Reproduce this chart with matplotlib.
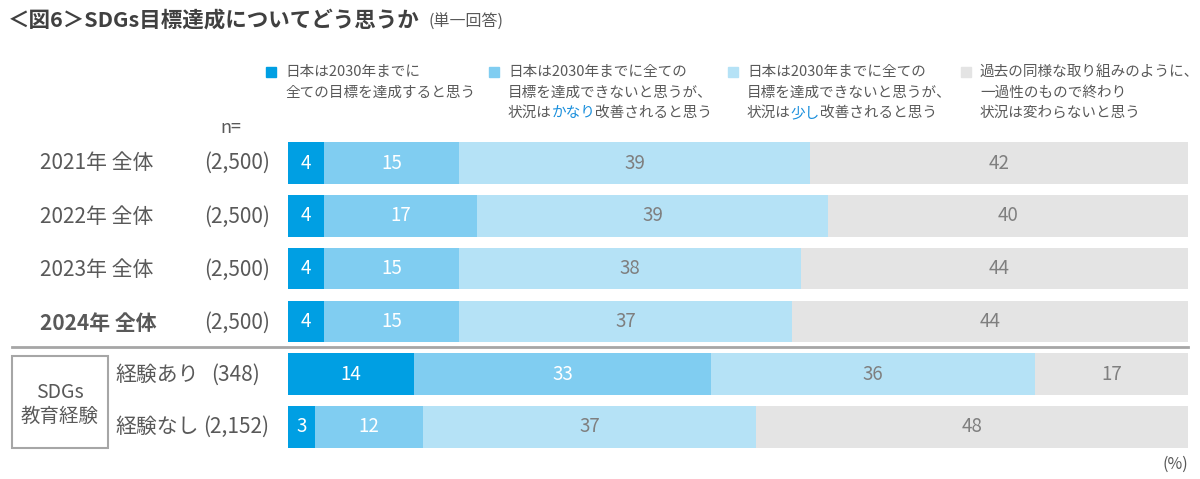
import matplotlib.pyplot as plt
import numpy as np

plt.rcParams['font.family'] = ['Noto Sans CJK JP', 'DejaVu Sans']

# data
row_labels = ['2021年 全体', '2022年 全体', '2023年 全体', '2024年 全体', '経験あり', '経験なし']
row_n = ['(2,500)', '(2,500)', '(2,500)', '(2,500)', '(348)', '(2,152)']
achieve_all = [4, 4, 4, 4, 14, 3]
improve_much = [15, 17, 15, 15, 33, 12]
improve_little = [39, 39, 38, 37, 36, 37]
no_change = [42, 40, 44, 44, 17, 48]

series = [achieve_all, improve_much, improve_little, no_change]
colors = ['#009fe3', '#80cdf1', '#b5e2f6', '#e4e4e4']
value_colors = ['white', 'white', '#7f7f7f', '#7f7f7f']

W, H = 1200, 479
fig = plt.figure(figsize=(12, 4.79), dpi=100)


def fx(px):
    return px / W


def fy(py):
    return 1 - py / H


gray = '#595959'

# bar axes
ax = fig.add_axes([fx(288), fy(453.4), fx(1188 - 288), (453.4 - 136.6) / H])
y = np.arange(len(row_labels))
left = np.zeros(len(row_labels))
for vals, c, tc in zip(series, colors, value_colors):
    vals = np.array(vals, dtype=float)
    ax.barh(y, vals, left=left, height=0.79, color=c, edgecolor='none')
    for yi, l, v in zip(y, left, vals):
        ax.text(l + v / 2, yi, f'{int(v)}', ha='center', va='center',
                fontsize=13.5, color=tc)
    left += vals
ax.set_xlim(0, 100)
ax.set_ylim(5.5, -0.5)
ax.axis('off')

# row labels
label_x = [40, 40, 40, 40, 115, 115]
n_right = [270, 270, 270, 270, 260, 269]
row_py = [163, 217, 270, 323, 375, 427]
for i, (lab, n) in enumerate(zip(row_labels, row_n)):
    w = 'bold' if i == 3 else 'normal'
    fig.text(fx(label_x[i]), fy(row_py[i]), lab, ha='left', va='center',
             fontsize=15, color=gray, fontweight=w)
    fig.text(fx(n_right[i]), fy(row_py[i]), n, ha='right', va='center',
             fontsize=15, color=gray)

fig.text(fx(220), fy(128), 'n=', ha='left', va='center', fontsize=13, color=gray)
fig.text(fx(1188), fy(464), '(%)', ha='right', va='center', fontsize=11.5, color=gray)

# separator line
fig.add_artist(plt.Line2D([fx(12), fx(1188)], [fy(347), fy(347)], color='#a6a6a6', lw=2))

# SDGs box
fig.add_artist(plt.Rectangle((fx(12), fy(448)), fx(96), (448 - 356) / H,
                             fill=False, edgecolor='#a6a6a6', lw=1.5))
fig.text(fx(60), fy(393), 'SDGs', ha='center', va='center', fontsize=14, color=gray)
fig.text(fx(60), fy(416), '教育経験', ha='center', va='center', fontsize=14, color=gray)

# title
fig.text(fx(8), fy(20), '＜図6＞SDGs目標達成についてどう思うか', ha='left', va='center',
         fontsize=15.5, fontweight='bold', color='#404040')
fig.text(fx(428), fy(22), '(単一回答)', ha='left', va='center', fontsize=11.5, color=gray)

# legend
leg_sq_x = [266, 489, 728, 961]
leg_lines = [
    [['日本は2030年までに'], ['全ての目標を達成すると思う']],
    [['日本は2030年までに全ての'], ['目標を達成できないと思うが、'], ['状況は', 'かなり', '改善されると思う']],
    [['日本は2030年までに全ての'], ['目標を達成できないと思うが、'], ['状況は', '少し', '改善されると思う']],
    [['過去の同様な取り組みのように、'], ['一過性のもので終わり'], ['状況は変わらないと思う']],
]
leg_fs = 10.5
line_py = [72, 93, 113]
for sx, c, lines in zip(leg_sq_x, colors, leg_lines):
    fig.add_artist(plt.Rectangle((fx(sx), fy(77)), fx(10), 10 / H, color=c))
    tx = sx + 19
    for li, parts in enumerate(lines):
        if len(parts) == 1:
            fig.text(fx(tx), fy(line_py[li]), parts[0], ha='left', va='center',
                     fontsize=leg_fs, color=gray)
        else:
            off = 0
            for k, p in enumerate(parts):
                pc = '#1a8fdc' if k == 1 else gray
                ax.annotate(p, xy=(fx(tx), fy(line_py[li])), xycoords='figure fraction',
                            xytext=(off, 0), textcoords='offset points',
                            ha='left', va='center', fontsize=leg_fs, color=pc,
                            annotation_clip=False)
                off += len(p) * leg_fs

fig.savefig('out.png', dpi=100)
